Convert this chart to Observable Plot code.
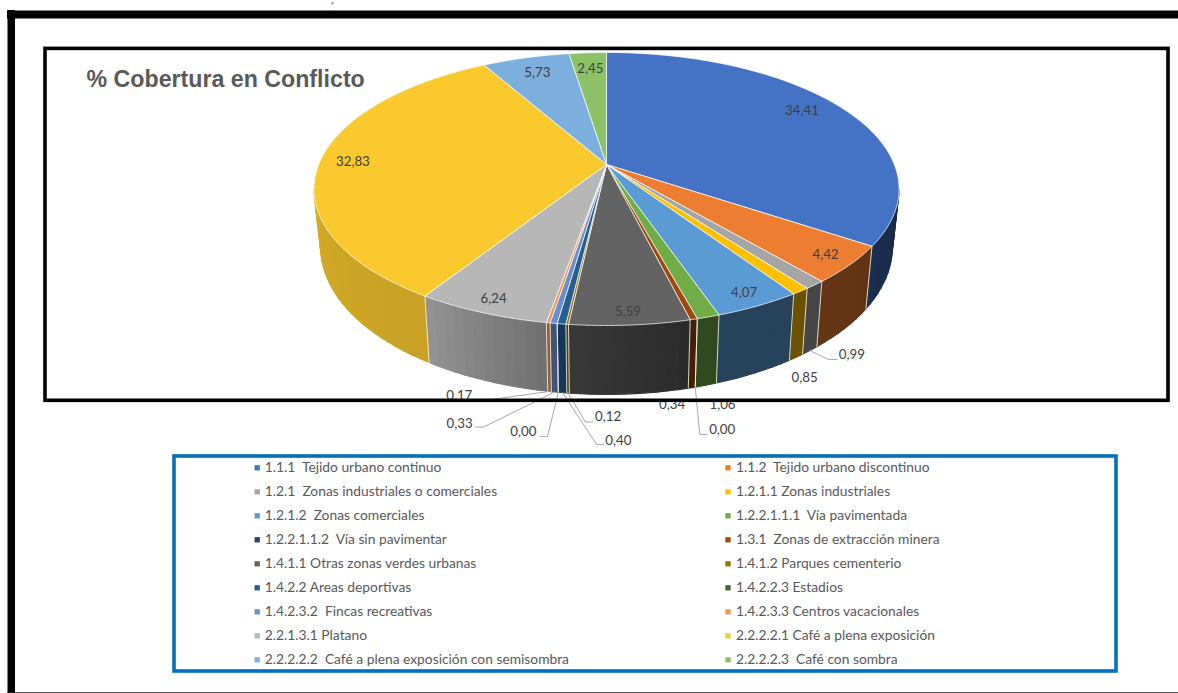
<!DOCTYPE html>
<html lang="es">
<head>
<meta charset="utf-8">
<title>% Cobertura en Conflicto</title>
<script src="https://cdn.jsdelivr.net/npm/d3@7"></script>
<script src="https://cdn.jsdelivr.net/npm/@observablehq/plot@0.6"></script>
<style>
  html, body { margin: 0; padding: 0; background: #fff; overflow: hidden; }
  svg text { white-space: pre; }
</style>
</head>
<body>
<div id="chart"></div>
<script>
// Land-cover classes in conflict, share of the total in percent.
const categories = [
  "1.1.1  Tejido urbano continuo", "1.1.2  Tejido urbano discontinuo",
  "1.2.1  Zonas industriales o comerciales", "1.2.1.1 Zonas industriales",
  "1.2.1.2  Zonas comerciales", "1.2.2.1.1.1  Vía pavimentada",
  "1.2.2.1.1.2  Vía sin pavimentar", "1.3.1  Zonas de extracción minera",
  "1.4.1.1 Otras zonas verdes urbanas", "1.4.1.2 Parques cementerio",
  "1.4.2.2 Areas deportivas", "1.4.2.2.3 Estadios",
  "1.4.2.3.2  Fincas recreativas", "1.4.2.3.3 Centros vacacionales",
  "2.2.1.3.1 Platano", "2.2.2.2.1 Café a plena exposición",
  "2.2.2.2.2  Café a plena exposición con semisombra", "2.2.2.2.3  Café con sombra"
];
const values = [34.41, 4.42, 0.99, 0.85, 4.07, 1.06, 0.00, 0.34, 5.59, 0.12, 0.40, 0.00, 0.33, 0.17, 6.24, 32.83, 5.73, 2.45];
const valueLabels = ["34,41", "4,42", "0,99", "0,85", "4,07", "1,06", "0,00", "0,34", "5,59", "0,12", "0,40", "0,00", "0,33", "0,17", "6,24", "32,83", "5,73", "2,45"];
const colors = ["#4472c4", "#ed7d31", "#a5a5a5", "#ffc000", "#5b9bd5", "#70ad47", "#264478", "#9e480e", "#636363", "#997300", "#255e91", "#43682b", "#698ed0", "#f1975a", "#b7b7b7", "#f9c92e", "#7cafdd", "#8cc168"];

// Perspective of the disc: pivot, half axes, foreshortening, and the lower rim.
const disc = {cx: 606, cy: 164, a: 287.8, b: 132.1, k: 0.1795, rimX: 0.977, rimY: 1.08, rimDrop: 56};
const wallFrom = 100.4, wallTo = 259.6;
const wallShade = d3.scaleLinear([100, 130, 166, 186, 200, 212, 260], [0.36, 0.42, 0.43, 0.57, 0.70, 0.80, 0.85]);

// Where each value label sits: inner labels use a radius on the top face,
// outer ones hang off the lower rim with an offset and an optional leader.
const innerLabels = new Map([[0, {r: 0.85, dx: -6, dy: -4}], [1, {r: 0.91}], [4, {r: 0.92}], [8, {r: 0.93}], [14, {r: 0.92}], [15, {r: 0.885}], [16, {r: 0.836}], [17, {r: 0.838}]]);
const outerLabels = new Map([
  [2, {dx: 42, dy: 4, bend: [[18.6, 9], [27.3, 9]]}],
  [3, {dx: 8.5, dy: 20}],
  [5, {dx: 16.6, dy: 19.3}],
  [6, {dx: 27, dy: 42.3, bend: [[4.6, 47.3], [12, 47.3]]}],
  [7, {dx: -19.6, dy: 17.5}],
  [9, {dx: 40, dy: 24, bend: [[17.4, 29], [25, 29]]}],
  [10, {dx: 55.7, dy: 47.8, bend: [[34, 51.8], [41, 51.8]]}],
  [11, {dx: -35, dy: 39.3, bend: [[-10.8, 44.3], [-17.8, 44.3]]}],
  [12, {dx: -95.3, dy: 31.6, bend: [[-71.3, 35.1], [-79.3, 35.1]]}],
  [13, {dx: -90.3, dy: 4.7, bend: [[-65, 9], [-74, 9]]}]
]);

// Projects a point of the disc (degrees clockwise from twelve o'clock, radius 0..1).
function face(deg, r = 1) {
  const t = deg * Math.PI / 180;
  const u = r * Math.sin(t), v = r * Math.cos(t), w = 1 + disc.k * v;
  return {x: disc.cx + disc.a * u / w, y: disc.cy - disc.b * v / w};
}
function rim(deg) {
  const p = face(deg);
  return {x: disc.cx + disc.rimX * (p.x - disc.cx), y: disc.cy + disc.rimDrop + disc.rimY * (p.y - disc.cy)};
}

const total = d3.sum(values);
let running = 0;
const slices = values.map((value, i) => {
  const start = running / total * 360;
  running += value;
  const end = running / total * 360;
  return {i, value, start, end, mid: (start + end) / 2, color: colors[i]};
});

const facePoints = [];
const wallPoints = [];
const edgePoints = [];
for (const s of slices) {
  if (s.value > 0) {
    const n = Math.max(2, Math.ceil(s.end - s.start));
    const ring = [{x: disc.cx, y: disc.cy}, ...d3.range(n + 1).map(k => face(s.start + (s.end - s.start) * k / n)), {x: disc.cx, y: disc.cy}];
    ring.forEach(p => facePoints.push({...p, id: s.i, fill: s.color}));
  }
  const lo = Math.max(s.start, wallFrom), hi = Math.min(s.end, wallTo);
  if (hi > lo) {
    const n = Math.max(1, Math.ceil((hi - lo) / 2));
    for (let k = 0; k < n; ++k) {
      const a0 = lo + (hi - lo) * k / n, a1 = lo + (hi - lo) * (k + 1) / n;
      const c = d3.rgb(s.color), f = wallShade((a0 + a1) / 2);
      const fill = d3.rgb(c.r * f, c.g * f, c.b * f).formatHex();
      [face(a0), face(a1), rim(a1), rim(a0), face(a0)].forEach(p => wallPoints.push({...p, id: `${s.i}-${k}`, fill}));
    }
  }
  if (s.end >= wallFrom && s.end <= wallTo) {
    [face(s.end), rim(s.end)].forEach(p => edgePoints.push({...p, id: s.i}));
  }
}

const labelRows = [];
const leaderPoints = [];
for (const s of slices) {
  const inner = innerLabels.get(s.i), outer = outerLabels.get(s.i);
  if (inner) {
    const p = face(s.mid, inner.r);
    labelRows.push({x: p.x + (inner.dx ?? 0), y: p.y + (inner.dy ?? 0), text: valueLabels[s.i]});
  } else if (outer) {
    const p = rim(s.mid);
    labelRows.push({x: p.x + outer.dx, y: p.y + outer.dy, text: valueLabels[s.i]});
    if (outer.bend) {
      leaderPoints.push({...p, id: s.i});
      outer.bend.forEach(([dx, dy]) => leaderPoints.push({x: p.x + dx, y: p.y + dy, id: s.i}));
    }
  }
}

// Legend in two columns, read left to right.
const legendColumns = [{swatch: 256.7, text: 264.3}, {swatch: 727.5, text: 735.4}];
const legendTop = 467.3, legendStep = 24;
const legendRows = categories.map((name, i) => ({
  name, fill: colors[i],
  swatch: legendColumns[i % 2].swatch,
  text: legendColumns[i % 2].text,
  y: legendTop + Math.floor(i / 2) * legendStep
}));

const labelFont = {fontFamily: "Lato, 'Open Sans', sans-serif"};

const chart = Plot.plot({
  width: 1178,
  height: 693,
  margin: 0,
  x: {domain: [0, 1178], range: [0, 1178], axis: null},
  y: {domain: [0, 693], range: [0, 693], axis: null},
  color: {type: "identity"},
  style: {background: "#fff", overflow: "hidden"},
  marks: [
    Plot.line(wallPoints, {x: "x", y: "y", z: "id", fill: "fill", stroke: "fill", strokeWidth: 1.1}),
    Plot.line(edgePoints, {x: "x", y: "y", z: "id", stroke: "#f6f0dc", strokeOpacity: 0.85, strokeWidth: 1}),
    Plot.line(facePoints, {x: "x", y: "y", z: "id", fill: "fill", stroke: "#fff", strokeOpacity: 0.7, strokeWidth: 1}),
    Plot.line(leaderPoints, {x: "x", y: "y", z: "id", stroke: "#a6a6a6", strokeWidth: 1}),
    Plot.text(labelRows, {x: "x", y: "y", text: "text", fill: "#404040", fontSize: 13.3, lineAnchor: "middle", ...labelFont}),
    // Chart frame sits above the labels that run across it.
    Plot.rect([{x1: 45, x2: 1168, y1: 48.4, y2: 400.3}], {x1: "x1", x2: "x2", y1: "y1", y2: "y2", fill: "none", stroke: "#000", strokeWidth: 3.6}),
    Plot.text(["% Cobertura en Conflicto"], {x: [86], y: [79.5], text: d => d, textAnchor: "start", lineAnchor: "middle", fill: "#595959", fontSize: 23.2, fontWeight: "bold", fontFamily: "'Liberation Sans', Arial, sans-serif"}),
    // Legend box and entries.
    Plot.rect([{x1: 174, x2: 1116, y1: 456, y2: 671}], {x1: "x1", x2: "x2", y1: "y1", y2: "y2", fill: "none", stroke: "#0070c0", strokeWidth: 3.6}),
    Plot.dot(legendRows, {x: "swatch", y: "y", fill: "fill", symbol: "square", r: 3}),
    Plot.text(legendRows, {x: "text", y: "y", text: "name", textAnchor: "start", lineAnchor: "middle", fill: "#595959", fontSize: 13.8, ...labelFont}),
    // Page border, with the small running-head mark above it.
    Plot.text(["p"], {x: [332], y: [0.5], text: d => d, fontSize: 4, fill: "#000", lineAnchor: "top", fontFamily: "'Liberation Serif', serif"}),
    Plot.ruleY([14], {x1: 7, x2: 1178, stroke: "#000", strokeWidth: 8}),
    Plot.ruleX([10.75], {y1: 10, y2: 693, stroke: "#000", strokeWidth: 7.5}),
    Plot.ruleY([692.4], {x1: 7, x2: 1178, stroke: "#222", strokeWidth: 1.4})
  ]
});
document.getElementById("chart").append(chart);
</script>
</body>
</html>
